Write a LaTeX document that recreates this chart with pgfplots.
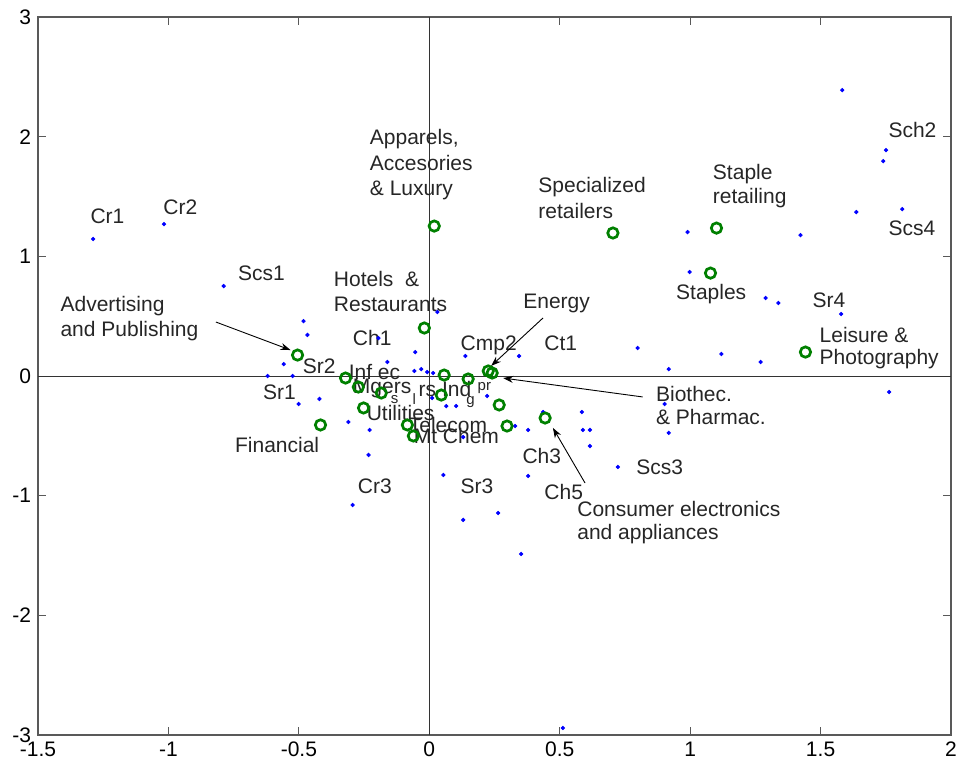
\documentclass[border=0pt]{standalone}
\usepackage{fontspec}
\setmainfont{Liberation Sans}
\usepackage{pgfplots}
\pgfplotsset{compat=1.18}
\usetikzlibrary{arrows.meta}
\definecolor{mgreen}{RGB}{0,128,0}
\newcommand\lab{\fontsize{10.5}{12}\selectfont}
\tikzset{
  lab/.style={anchor=base west, inner sep=0pt, font=\lab, text=black!85},
  sm/.style={anchor=base west, inner sep=0pt, font=\fontsize{7.5}{9}\selectfont, text=black!85},
  arr/.style={black, line width=0.45pt, -{Stealth[length=5pt,width=3.5pt]}}
}

\begin{document}
\begin{tikzpicture}
\begin{axis}[
  at={(19pt,16pt)}, anchor=south west,
  scale only axis, width=456.5pt, height=359pt,
  xmin=-1.5, xmax=2, ymin=-3, ymax=3,
  xtick={-1.5,-1,...,2}, xticklabels={-1.5,-1,-0.5,0,0.5,1,1.5,2},
  ytick={-3,...,3}, yticklabels={-3,-2,-1,0,1,2,3},
  tick align=inside, major tick length=4pt,
  axis line style={black!65, line width=0.6pt},
  tick style={black!65, line width=0.5pt},
  every tick label/.append style={font=\lab},
  clip=false,
]
% zero lines
\addplot[black!80, line width=0.5pt] coordinates {(-1.5,0) (2,0)};
\addplot[black!80, line width=0.5pt] coordinates {(0,-3) (0,3)};

% companies
\addplot[only marks, mark=*, mark size=0.85pt, blue] coordinates {
(-1.289,1.145) (-1.017,1.270) (1.583,2.389) (1.751,1.888) (1.740,1.796)
(1.637,1.370) (1.813,1.395) (0.990,1.203) (1.423,1.178) (-0.788,0.752)
(-0.482,0.459) (-0.467,0.343) (-0.558,0.100) (-0.620,0.000) (-0.524,0.000)
(-0.501,-0.234) (-0.421,-0.192) (-0.310,-0.384) (-0.229,-0.451) (-0.233,-0.660)
(-0.195,0.317) (-0.161,0.117) (-0.054,0.200) (-0.057,0.042) (-0.031,0.058)
(-0.008,0.033) (0.015,0.025) (0.031,0.535) (0.054,-0.827) (0.138,0.167)
(0.344,0.167) (0.065,-0.251) (0.103,-0.251) (0.222,-0.167) (0.436,-0.301)
(0.379,-0.451) (0.329,-0.418) (0.130,-1.203) (0.264,-1.145) (0.379,-0.835)
(-0.294,-1.078) (0.352,-1.487) (0.512,-2.941) (0.998,0.869) (1.289,0.652)
(1.338,0.610) (1.579,0.518) (0.799,0.234) (1.120,0.184) (1.270,0.117)
(0.918,0.058) (1.763,-0.134) (0.902,-0.234) (0.918,-0.476) (0.585,-0.301)
(0.589,-0.451) (0.616,-0.451) (0.616,-0.585) (0.723,-0.760) (0.011,-0.184)
(0.130,-0.510)
};

% sectors
\addplot[only marks, mark=o, mark size=2.6pt, mgreen, line width=1.35pt] coordinates {
(0.019,1.253) (0.704,1.195) (1.101,1.236) (1.078,0.860) (1.442,0.200)
(-0.019,0.401) (-0.505,0.175) (0.226,0.042) (0.241,0.025) (-0.417,-0.409)
(0.444,-0.351) (-0.321,-0.017) (-0.272,-0.092) (-0.184,-0.142) (-0.252,-0.267)
(-0.084,-0.409) (-0.061,-0.501) (0.057,0.008) (0.149,-0.025) (0.046,-0.159)
(0.268,-0.242) (0.298,-0.418)
};

% labels
\node[lab] at (-1.300,1.278) {Cr1};
\node[lab] at (-1.021,1.353) {Cr2};
\node[lab] at (-0.229,1.938) {Apparels,};
\node[lab] at (-0.229,1.721) {Accesories};
\node[lab] at (-0.229,1.512) {\& Luxury};
\node[lab] at (0.417,1.537) {Specialized};
\node[lab] at (0.417,1.320) {retailers};
\node[lab] at (1.086,1.646) {Staple};
\node[lab] at (1.086,1.445) {retailing};
\node[lab] at (1.759,1.997) {Sch2};
\node[lab] at (1.759,1.178) {Scs4};
\node[lab] at (-0.734,0.802) {Scs1};
\node[lab] at (-0.367,0.744) {Hotels~~\&};
\node[lab] at (-0.367,0.543) {Restaurants};
\node[lab] at (-1.415,0.535) {Advertising};
\node[lab] at (-1.415,0.334) {and Publishing};
\node[lab] at (-0.294,0.259) {Ch1};
\node[lab] at (-0.486,0.017) {Sr2};
\node[lab] at (-0.310,-0.033) {Inf ec};
\node[lab] at (-0.294,-0.142) {Mgers};
\node[sm] at (-0.149,-0.226) {s};
\node[sm] at (-0.065,-0.242) {l};
\node[lab] at (-0.042,-0.175) {rs Ind};
\node[sm] at (0.141,-0.242) {g};
\node[sm] at (0.184,-0.117) {pr};
\node[lab] at (-0.639,-0.200) {Sr1};
\node[lab] at (-0.746,-0.643) {Financial};
\node[lab] at (-0.241,-0.368) {Utilities};
\node[lab] at (-0.080,-0.468) {Telecom};
\node[lab] at (-0.061,-0.568) {Mt Chem};
\node[lab] at (-0.275,-0.986) {Cr3};
\node[lab] at (0.119,-0.986) {Sr3};
\node[lab] at (0.945,0.643) {Staples};
\node[lab] at (0.359,0.568) {Energy};
\node[lab] at (1.468,0.576) {Sr4};
\node[lab] at (1.495,0.284) {Leisure \&};
\node[lab] at (1.495,0.092) {Photography};
\node[lab] at (0.119,0.217) {Cmp2};
\node[lab] at (0.440,0.217) {Ct1};
\node[lab] at (0.868,-0.209) {Biothec.};
\node[lab] at (0.868,-0.409) {\& Pharmac.};
\node[lab] at (0.356,-0.727) {Ch3};
\node[lab] at (0.440,-1.028) {Ch5};
\node[lab] at (0.792,-0.819) {Scs3};
\node[lab] at (0.566,-1.170) {Consumer electronics};
\node[lab] at (0.566,-1.370) {and appliances};

% arrows
\draw[arr] (-0.818,0.451) -- (-0.532,0.217);
\draw[arr] (0.436,0.485) -- (0.237,0.084);
\draw[arr] (0.818,-0.175) -- (0.283,-0.017);
\draw[arr] (0.597,-0.894) -- (0.474,-0.434);
\end{axis}
\pgfresetboundingbox
\useasboundingbox (0,0) rectangle (478pt,383.5pt);
\end{tikzpicture}
\end{document}
